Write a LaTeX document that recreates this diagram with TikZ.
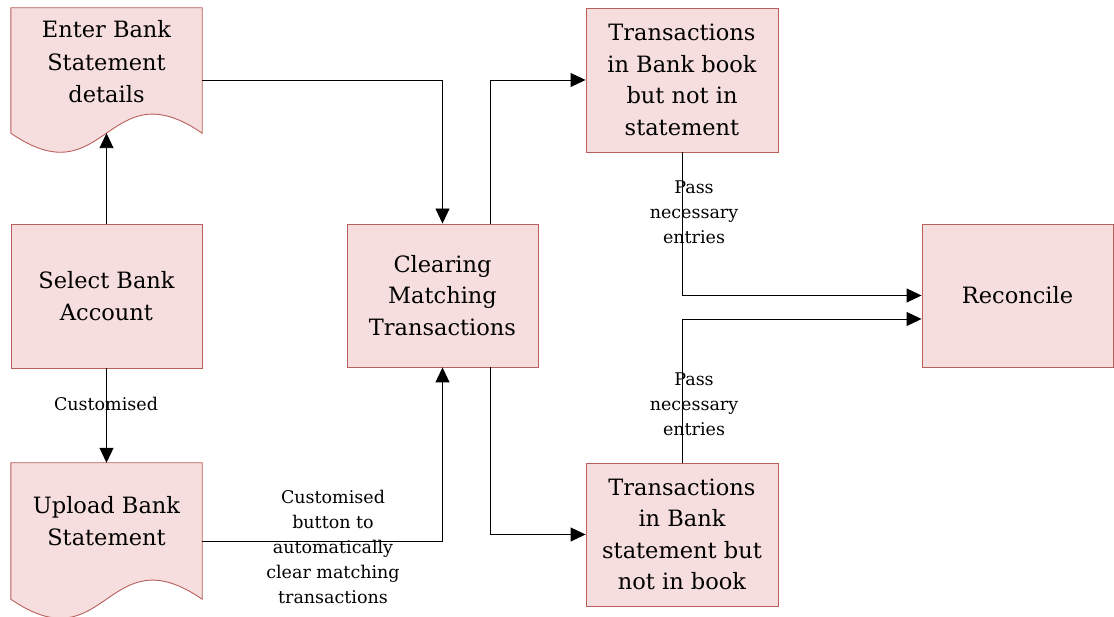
\documentclass[tikz,border=0pt]{standalone}
\usepackage{fontspec}
\setmainfont{DejaVu Serif}
\usetikzlibrary{arrows.meta,calc,positioning}
\definecolor{boxfill}{RGB}{246,222,222}
\definecolor{boxline}{RGB}{184,96,92}
\tikzset{
  procbox/.style={draw=boxline,fill=boxfill,line width=0.9pt,minimum width=191pt,minimum height=143pt,inner sep=2pt,align=center,font=\fontsize{22.5}{31.5}\selectfont},
  docframe/.style={draw=none,fill=none,minimum width=191pt,inner sep=0pt},
  docpath/.style={draw=boxline,fill=boxfill,line width=0.9pt},
  doctext/.style={align=center,font=\fontsize{22.5}{32.5}\selectfont,inner sep=0pt},
  conn/.style={draw=black,line width=0.9pt,-{Triangle[length=15pt,width=14pt]}},
  lbl/.style={align=center,font=\fontsize{17.5}{25}\selectfont,inner sep=0pt}
}
\begin{document}
\begin{tikzpicture}[x=1pt,y=1pt]
\useasboundingbox (0,0) rectangle (1114,617);
% document shapes
\node[docframe,minimum height=125pt] (enter) at (106.5,546.5) {};
\path[docpath] (enter.north west) -- (enter.north east) -- (enter.south east)
  .. controls ($(enter.south)+(0,66)$) and ($(enter.south)+(0,-66)$) .. (enter.south west) -- cycle;
\node[doctext] (entertext) at (106.5,555) {Enter Bank\\Statement\\details};
\node[docframe,minimum height=136pt] (upload) at (106.5,86) {};
\path[docpath] (upload.north west) -- (upload.north east) -- (upload.south east)
  .. controls ($(upload.south)+(0,66)$) and ($(upload.south)+(0,-66)$) .. (upload.south west) -- cycle;
\node[doctext] (uploadtext) at (106.5,96) {Upload Bank\\Statement};
% process boxes
\node[procbox,minimum height=144pt] (select) at (106.5,321) {Select Bank\\Account};
\node[procbox] (clear) at (442.5,321.5) {Clearing\\Matching\\Transactions};
\node[procbox,minimum width=192pt,minimum height=144pt] (tbook) at (682,537) {Transactions\\in Bank book\\but not in\\statement};
\node[procbox,minimum width=192pt] (tstmt) at (682,82.5) {Transactions\\in Bank\\statement but\\not in book};
\node[procbox] (recon) at (1017.5,321.5) {Reconcile};
% connectors
\draw[conn] (select.north) -- (enter.south);
\draw[conn] (select.south) -- (upload.north);
\node[lbl] (lcust) at (106,213) {Customised};
\draw[conn] (enter.east |- tbook.center) -| (clear.north);
\coordinate (uo) at ($(upload.east)+(0,-10)$);
\draw[conn] (uo) -| (clear.south);
\node[lbl] (lbutton) at (333,70) {Customised\\button to\\automatically\\clear matching\\transactions};
\coordinate (ct) at ($(clear.north)+(47.5,0)$);
\coordinate (cb) at ($(clear.south)+(47.5,0)$);
\draw[conn] (ct) |- (tbook.west);
\draw[conn] (cb) |- (tstmt.west);
\draw[conn] (tbook.south) |- (recon.west);
\coordinate (rin) at ($(recon.west)+(0,-23.5)$);
\draw[conn] (tstmt.north) |- (rin);
\node[lbl] (lpass1) at (694,405) {Pass\\necessary\\entries};
\node[lbl] (lpass2) at (694,213) {Pass\\necessary\\entries};
\end{tikzpicture}
\end{document}
